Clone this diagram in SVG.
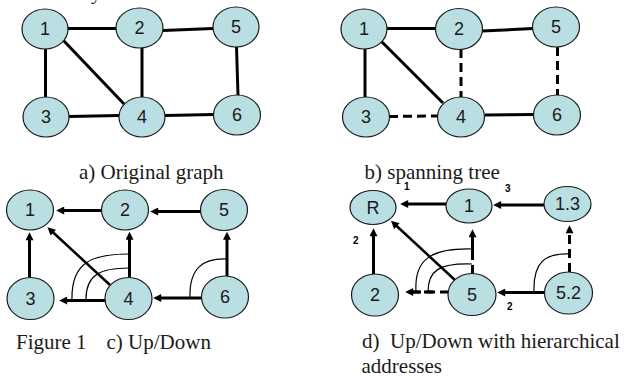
<svg xmlns="http://www.w3.org/2000/svg" width="626" height="376" viewBox="0 0 626 376">
<style>
.n ellipse{fill:#B9DFE3;stroke:#1a1a1a;stroke-width:1.2}
.n text{font-family:"Liberation Sans",Arial,sans-serif;font-size:18px;fill:#1a1a1a;text-anchor:middle;dominant-baseline:central}
.e{stroke:#000;stroke-width:3;fill:none}
.d{stroke-dasharray:9,5}
.t{stroke-width:2.5}
.arc{stroke:#000;stroke-width:1.2;fill:none}
.cap{font-family:"Liberation Serif","Times New Roman",serif;font-size:21px;fill:#1a1a1a}
.lbl{font-family:"Liberation Sans",Arial,sans-serif;font-size:10px;font-weight:bold;fill:#000}
</style>
<defs>
<marker id="ah" viewBox="0 0 10 10" refX="4" refY="5" markerWidth="9" markerHeight="8" markerUnits="userSpaceOnUse" orient="auto">
<path d="M0,0 L10,5 L0,10 z" fill="#000"/>
</marker>
</defs>
<rect width="626" height="376" fill="#fff"/>
<text class="cap" x="91" y="-1">y</text>

<g id="connectors">
<!-- panel a -->
<path class="e" d="M68 28.5 L116 28.5"/>
<path class="e" d="M163 30.5 L213 28.5"/>
<path class="e" d="M45.5 49 L45.5 97"/>
<path class="e" d="M63 40 L124 104"/>
<path class="e" d="M142 48 L142 97"/>
<path class="e" d="M236.5 47 L238 95"/>
<path class="e" d="M69 116.5 L119 115.5"/>
<path class="e" d="M165 115.5 L214 114.5"/>
<!-- panel b -->
<path class="e" d="M387 28.5 L436 28.5"/>
<path class="e" d="M482 31 L533 28.5"/>
<path class="e" d="M365 49 L365 97"/>
<path class="e" d="M381 41 L443 103"/>
<path class="e d" d="M461 49 L461 97"/>
<path class="e d" d="M557.5 47 L557.5 95"/>
<path class="e d" d="M389 116.5 L438 116"/>
<path class="e" d="M485 115 L534 114.5"/>
<!-- panel c -->
<path class="e" d="M102 210.5 L61 210.5" marker-end="url(#ah)"/>
<path class="e" d="M201 211.5 L155 211.5" marker-end="url(#ah)"/>
<path class="e" d="M29.5 277 L29.5 237" marker-end="url(#ah)"/>
<path class="e t" d="M110 285 L51 230.5" marker-end="url(#ah)"/>
<path class="e" d="M129.5 277 L129.5 236.5" marker-end="url(#ah)"/>
<path class="e" d="M106 300.5 L64 300.5" marker-end="url(#ah)"/>
<path class="e" d="M203 298 L158 298" marker-end="url(#ah)"/>
<path class="e" d="M227 276 L227 236.5" marker-end="url(#ah)"/>
<path class="arc" d="M72 300 C71 262 92 254 129 254"/>
<path class="arc" d="M86 299 C86 275 100 268 129 268"/>
<path class="arc" d="M190 298 C189 268 203 258 227 259"/>
<!-- panel d -->
<path class="e" d="M446 204 L405 204" marker-end="url(#ah)"/>
<path class="e" d="M545 205 L498 205" marker-end="url(#ah)"/>
<path class="e" d="M373.5 274 L373.5 233" marker-end="url(#ah)"/>
<path class="e t" d="M456 281 L394.5 224" marker-end="url(#ah)"/>
<path class="e d" d="M472.5 274 L472.5 234" marker-end="url(#ah)"/>
<path class="e d" d="M449 292 L410 292" marker-end="url(#ah)"/>
<path class="e" d="M545 292.5 L502 292.5" marker-end="url(#ah)"/>
<path class="e d" d="M569.5 272 L569.5 230" marker-end="url(#ah)"/>
<path class="arc" d="M416 292 C414 260 430 248 472 249"/>
<path class="arc" d="M428 292 C428 270 440 263 472 264"/>
<path class="arc" d="M534 292 C533 262 545 253 570 254"/>
<path class="e" d="M412 292 L420 292 M424 292 L433 292 M472.5 245 L472.5 253 M569.5 250 L569.5 258" stroke-width="2"/>
</g>

<g id="a1" class="n"><ellipse cx="45" cy="29" rx="23" ry="20"/><text x="45" y="29">1</text></g>
<g id="a2" class="n"><ellipse cx="139.5" cy="28" rx="23.5" ry="20"/><text x="139.5" y="28">2</text></g>
<g id="a5" class="n"><ellipse cx="236" cy="27" rx="23" ry="20"/><text x="236" y="27">5</text></g>
<g id="a3" class="n"><ellipse cx="46" cy="117" rx="23" ry="20"/><text x="46" y="117">3</text></g>
<g id="a4" class="n"><ellipse cx="142" cy="117" rx="23" ry="20"/><text x="142" y="117">4</text></g>
<g id="a6" class="n"><ellipse cx="237" cy="115" rx="23.5" ry="20"/><text x="237" y="115">6</text></g>

<g id="b1" class="n"><ellipse cx="364" cy="29" rx="23" ry="20"/><text x="364" y="29">1</text></g>
<g id="b2" class="n"><ellipse cx="459" cy="29" rx="23.5" ry="20.5"/><text x="459" y="29">2</text></g>
<g id="b5" class="n"><ellipse cx="556" cy="27" rx="23.5" ry="20"/><text x="556" y="27">5</text></g>
<g id="b3" class="n"><ellipse cx="366" cy="117" rx="23.5" ry="20"/><text x="366" y="117">3</text></g>
<g id="b4" class="n"><ellipse cx="461" cy="117" rx="23.5" ry="20"/><text x="461" y="117">4</text></g>
<g id="b6" class="n"><ellipse cx="557" cy="115" rx="23.5" ry="20"/><text x="557" y="115">6</text></g>

<g id="c1" class="n"><ellipse cx="30" cy="210" rx="23.5" ry="20"/><text x="30" y="210">1</text></g>
<g id="c2" class="n"><ellipse cx="125" cy="210" rx="23.5" ry="20"/><text x="125" y="210">2</text></g>
<g id="c5" class="n"><ellipse cx="224" cy="210" rx="23.5" ry="20.5"/><text x="224" y="210">5</text></g>
<g id="c3" class="n"><ellipse cx="30.5" cy="298.5" rx="23.5" ry="21"/><text x="30.5" y="298.5">3</text></g>
<g id="c4" class="n"><ellipse cx="128.5" cy="298.5" rx="23.5" ry="21"/><text x="128.5" y="298.5">4</text></g>
<g id="c6" class="n"><ellipse cx="225" cy="297" rx="23.5" ry="21"/><text x="225" y="297">6</text></g>

<g id="dR" class="n"><ellipse cx="373" cy="207.5" rx="23" ry="17"/><text x="373" y="207.5">R</text></g>
<g id="d1" class="n"><ellipse cx="469" cy="206" rx="23" ry="17"/><text x="469" y="206">1</text></g>
<g id="d13" class="n"><ellipse cx="567.5" cy="204" rx="23.5" ry="17.5"/><text x="567.5" y="204">1.3</text></g>
<g id="d2" class="n"><ellipse cx="375" cy="295" rx="23.5" ry="21"/><text x="375" y="295">2</text></g>
<g id="d5" class="n"><ellipse cx="472" cy="294.5" rx="24" ry="21"/><text x="472" y="294.5">5</text></g>
<g id="d52" class="n"><ellipse cx="568.5" cy="293" rx="24" ry="21"/><text x="568.5" y="293">5.2</text></g>

<g id="labels">
<text class="lbl" x="404" y="190">1</text>
<text class="lbl" x="505" y="191.5">3</text>
<text class="lbl" x="353" y="244">2</text>
<text class="lbl" x="507" y="310">2</text>
</g>

<g id="captions">
<text class="cap" x="79" y="178.5">a) Original graph</text>
<text class="cap" x="364.5" y="178.5">b) spanning tree</text>
<text class="cap" x="16" y="349">Figure 1</text>
<text class="cap" x="106.5" y="349">c) Up/Down</text>
<text class="cap" x="362" y="348" xml:space="preserve">d)  Up/Down with hierarchical</text>
<text class="cap" x="361.5" y="373">addresses</text>
</g>
</svg>
